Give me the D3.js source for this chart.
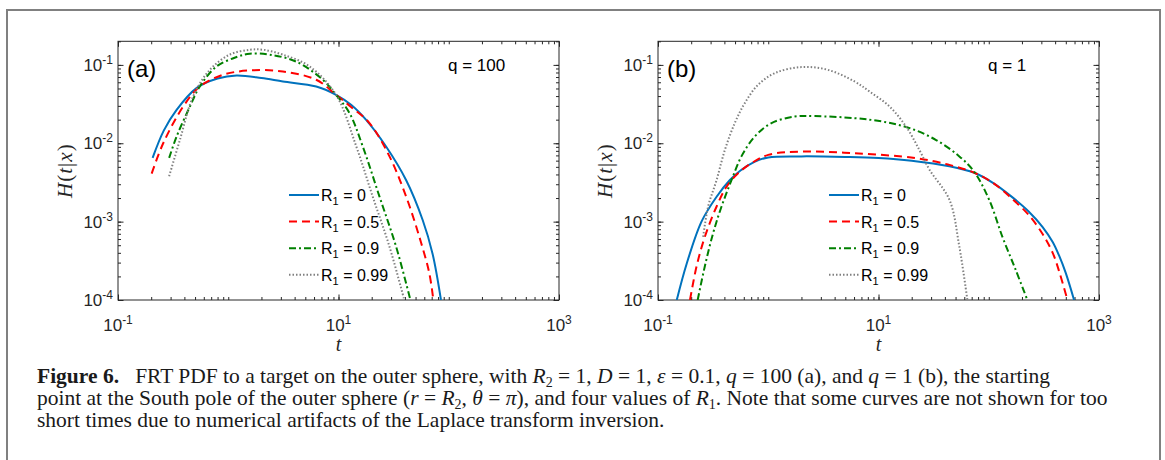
<!DOCTYPE html>
<html>
<head>
<meta charset="utf-8">
<script src="https://cdn.jsdelivr.net/npm/d3@7"></script>
<style>
  body { margin: 0; background: #fff; }
  svg { display: block; }
</style>
</head>
<body>
<script>
// values: [t, H(t|x)]
var a_R0 = [[0.206,0.0065],[0.26,0.0145],[0.34,0.0267],[0.515,0.0506],[0.8,0.067],[1.19,0.0733],[2,0.068],[3.13,0.0614],[6.28,0.053],[9.5,0.0415],[13,0.031],[17.8,0.0199],[27,0.0091],[41,0.0034],[58,0.00105],[71.3,0.00039],[85,0.0001]];
var a_R05 = [[0.202,0.0041],[0.257,0.01],[0.39,0.0294],[0.552,0.053],[0.9,0.0748],[1.57,0.085],[3.13,0.0824],[6.28,0.0646],[9.5,0.0415],[13,0.029],[19.1,0.0181],[29,0.0068],[41,0.0021],[54.1,0.00064],[66.6,0.00022],[72.5,0.0001]];
var a_R09 = [[0.291,0.0065],[0.34,0.0122],[0.449,0.0294],[0.552,0.053],[0.782,0.0955],[1.19,0.126],[1.57,0.139],[2.38,0.135],[4.14,0.11],[7.21,0.0646],[9.5,0.0415],[12.6,0.0242],[16.6,0.0091],[23.5,0.0021],[33.3,0.00048],[44.9,0.0001]];
var a_R099 = [[0.291,0.0038],[0.364,0.011],[0.48,0.0395],[0.681,0.0865],[1.03,0.135],[1.57,0.156],[2.07,0.156],[3.13,0.135],[5.47,0.0955],[9.5,0.0415],[14.5,0.0091],[20.4,0.0021],[29,0.00048],[39.5,0.0001]];

var b_R0 = [[0.148,0.0001],[0.182,0.00029],[0.248,0.001],[0.34,0.00208],[0.449,0.0034],[0.56,0.0045],[0.75,0.0058],[1,0.0066],[2,0.0068],[5,0.0067],[10,0.0065],[20,0.006],[43.9,0.0051],[74,0.0042],[110,0.0031],[160,0.0021],[230,0.00135],[307,0.00086],[380,0.00055],[434,0.00037],[500,0.00022],[594,0.0001]];
var b_R05 = [[0.195,0.0001],[0.224,0.00027],[0.266,0.00064],[0.34,0.00156],[0.419,0.0028],[0.533,0.00415],[0.705,0.00557],[1,0.00711],[2,0.00783],[6.07,0.00746],[21.9,0.00646],[43.9,0.0053],[74,0.0042],[110,0.0031],[160,0.002],[230,0.00122],[307,0.0007],[380,0.0004],[440,0.00022],[517,0.0001]];
var b_R09 = [[0.229,0.0001],[0.266,0.00027],[0.316,0.00071],[0.377,0.00156],[0.465,0.0034],[0.571,0.0068],[0.755,0.0122],[1.07,0.0181],[1.74,0.0219],[2.64,0.0222],[6.07,0.0209],[10.9,0.0189],[19.2,0.0156],[33.3,0.011],[54.1,0.0068],[74,0.00431],[101,0.00189],[133,0.00064],[176,0.00024],[224,0.0001]];
var b_R099 = [[0.257,0.00064],[0.285,0.00156],[0.34,0.0034],[0.404,0.0082],[0.497,0.0181],[0.612,0.0325],[0.809,0.0557],[1.15,0.0786],[2,0.0938],[3.47,0.0865],[6.07,0.0614],[8.3,0.0457],[12.6,0.0294],[17.8,0.0163],[23.5,0.0082],[29,0.0046],[44,0.0019],[54.1,0.00048],[64,0.0001]];

var seriesNames = ["0", "0.5", "0.9", "0.99"];
var xMajor = [0.1, 10, 1000];
var xMajorExp = ["-1", "1", "3"];
var yMajor = [1e-4, 1e-3, 1e-2, 1e-1];
var yMajorExp = ["-4", "-3", "-2", "-1"];

var styles = [
  { color: "#0072BD", dash: null },
  { color: "#FF0000", dash: "8,5" },
  { color: "#008000", dash: "7,3,2,3" },
  { color: "#808080", dash: "1.5,2" }
];

var panels = [
  { left: 118, right: 559, tag: "(a)", q: "q = 100", qx: 448, data: [a_R0, a_R05, a_R09, a_R099] },
  { left: 658, right: 1099, tag: "(b)", q: "q = 1", qx: 988, data: [b_R0, b_R05, b_R09, b_R099] }
];

var plotTop = 41.3, plotBottom = 300;

var svg = d3.select("body").append("svg").attr("width", 1165).attr("height", 460);

// figure frame
svg.append("path")
  .attr("d", "M7,460 V10 H1160 V460")
  .attr("fill", "none").attr("stroke", "#808080").attr("stroke-width", 2);

var sans = "Liberation Sans, Arial, Helvetica, sans-serif";
var serif = "Liberation Serif, Times New Roman, serif";

// minor ticks: every integer multiple inside each decade
function minorTicks(lo, hi) {
  var out = [];
  for (var e = Math.floor(Math.log10(lo)); e < Math.ceil(Math.log10(hi)); e++) {
    for (var k = 1; k < 10; k++) {
      var v = k * Math.pow(10, e);
      if (v >= lo && v <= hi) out.push(v);
    }
  }
  return out;
}

panels.forEach(function(p, pi) {
  var x = d3.scaleLog().domain([0.1, 1000]).range([p.left, p.right]);
  var y = d3.scaleLog().domain([1e-4, 0.2]).range([plotBottom, plotTop]);
  var g = svg.append("g");

  var clipId = "clip" + pi;
  svg.append("clipPath").attr("id", clipId).append("rect")
    .attr("x", p.left).attr("y", plotTop).attr("width", p.right - p.left).attr("height", plotBottom - plotTop);

  var xMinor = minorTicks(0.1, 1000);
  var yMinor = minorTicks(1e-4, 0.2);

  function axisStyle(sel) {
    sel.select(".domain").remove();
    sel.selectAll("line").attr("stroke", "#262626").attr("stroke-width", 1);
  }

  g.append("g").attr("transform", "translate(0," + plotBottom + ")")
    .call(d3.axisBottom(x).tickValues(xMinor).tickSize(-3).tickFormat("")).call(axisStyle);
  g.append("g").attr("transform", "translate(0," + plotBottom + ")")
    .call(d3.axisBottom(x).tickValues(xMajor).tickSize(-5.5).tickFormat("")).call(axisStyle);
  g.append("g").attr("transform", "translate(0," + plotTop + ")")
    .call(d3.axisTop(x).tickValues(xMinor).tickSize(-3).tickFormat("")).call(axisStyle);
  g.append("g").attr("transform", "translate(0," + plotTop + ")")
    .call(d3.axisTop(x).tickValues(xMajor).tickSize(-5.5).tickFormat("")).call(axisStyle);
  g.append("g").attr("transform", "translate(" + p.left + ",0)")
    .call(d3.axisLeft(y).tickValues(yMinor).tickSize(-3).tickFormat("")).call(axisStyle);
  g.append("g").attr("transform", "translate(" + p.left + ",0)")
    .call(d3.axisLeft(y).tickValues(yMajor).tickSize(-5.5).tickFormat("")).call(axisStyle);
  g.append("g").attr("transform", "translate(" + p.right + ",0)")
    .call(d3.axisRight(y).tickValues(yMinor).tickSize(-3).tickFormat("")).call(axisStyle);
  g.append("g").attr("transform", "translate(" + p.right + ",0)")
    .call(d3.axisRight(y).tickValues(yMajor).tickSize(-5.5).tickFormat("")).call(axisStyle);

  g.append("rect")
    .attr("x", p.left).attr("y", plotTop).attr("width", p.right - p.left).attr("height", plotBottom - plotTop)
    .attr("fill", "none").attr("stroke", "#262626").attr("stroke-width", 1);

  // tick labels with superscripts
  xMajor.forEach(function(v, i) {
    var t = g.append("text").attr("x", x(v)).attr("y", 331)
      .attr("text-anchor", "middle").attr("font-family", sans).attr("font-size", 17).attr("fill", "#262626");
    t.append("tspan").text("10");
    t.append("tspan").attr("font-size", 12).attr("dy", -7).text(xMajorExp[i]);
  });
  yMajor.forEach(function(v, i) {
    var t = g.append("text").attr("x", p.left - 5).attr("y", y(v) + 6)
      .attr("text-anchor", "end").attr("font-family", sans).attr("font-size", 17).attr("fill", "#262626");
    t.append("tspan").text("10");
    t.append("tspan").attr("font-size", 12).attr("dy", -7).text(yMajorExp[i]);
  });

  // axis titles
  g.append("text").attr("x", (p.left + p.right) / 2).attr("y", 351)
    .attr("text-anchor", "middle").attr("font-family", serif).attr("font-size", 20)
    .attr("font-style", "italic").attr("fill", "#262626").text("t");
  var yl = g.append("text")
    .attr("transform", "translate(" + (p.left - 46) + "," + ((plotTop + plotBottom) / 2) + ") rotate(-90)")
    .attr("text-anchor", "middle").attr("font-family", serif).attr("font-size", 21)
    .attr("letter-spacing", 1).attr("fill", "#262626");
  yl.append("tspan").attr("font-style", "italic").text("H");
  yl.append("tspan").text("(");
  yl.append("tspan").attr("font-style", "italic").text("t");
  yl.append("tspan").text("|");
  yl.append("tspan").attr("font-style", "italic").text("x");
  yl.append("tspan").text(")");

  g.append("text").attr("x", p.left + 9).attr("y", 77)
    .attr("font-family", sans).attr("font-size", 24).attr("fill", "#000").text(p.tag);
  g.append("text").attr("x", p.qx).attr("y", 71)
    .attr("font-family", sans).attr("font-size", 17).attr("fill", "#000").text(p.q);

  // curves
  var line = d3.line()
    .x(function(d) { return x(d[0]); })
    .y(function(d) { return y(d[1]); })
    .curve(d3.curveCatmullRom.alpha(0.5));

  var cg = g.append("g").attr("clip-path", "url(#" + clipId + ")");
  p.data.forEach(function(s, si) {
    cg.append("path").datum(s)
      .attr("d", line)
      .attr("fill", "none")
      .attr("stroke", styles[si].color)
      .attr("stroke-width", 2)
      .attr("stroke-dasharray", styles[si].dash);
  });

  // legend
  var lx = p.left + 171;
  seriesNames.forEach(function(n, si) {
    var ly = 195 + si * 26.6;
    g.append("line").attr("x1", lx).attr("x2", lx + 30).attr("y1", ly).attr("y2", ly)
      .attr("stroke", styles[si].color).attr("stroke-width", 2)
      .attr("stroke-dasharray", styles[si].dash);
    var t = g.append("text").attr("x", lx + 32).attr("y", ly + 6)
      .attr("font-family", sans).attr("font-size", 16).attr("fill", "#000");
    t.append("tspan").text("R");
    t.append("tspan").attr("font-size", 11).attr("dy", 4).text("1");
    t.append("tspan").attr("dy", -4).text(" = " + n);
  });
});

// caption
var cap = svg.append("g").attr("font-family", serif).attr("font-size", 21.5).attr("fill", "#1a1a1a");
var l1 = cap.append("text").attr("x", 37).attr("y", 383);
l1.append("tspan").attr("font-weight", "bold").text("Figure 6.");
l1.append("tspan").text("\u2002 FRT PDF to a target on the outer sphere, with ");
l1.append("tspan").attr("font-style", "italic").text("R");
l1.append("tspan").attr("font-size", 14).attr("dy", 4).text("2");
l1.append("tspan").attr("dy", -4).text(" = 1, ");
l1.append("tspan").attr("font-style", "italic").text("D");
l1.append("tspan").text(" = 1, ");
l1.append("tspan").attr("font-style", "italic").text("\u03b5");
l1.append("tspan").text(" = 0.1, ");
l1.append("tspan").attr("font-style", "italic").text("q");
l1.append("tspan").text(" = 100 (a), and ");
l1.append("tspan").attr("font-style", "italic").text("q");
l1.append("tspan").text(" = 1 (b), the starting");

var l2 = cap.append("text").attr("x", 37).attr("y", 405);
l2.append("tspan").text("point at the South pole of the outer sphere (");
l2.append("tspan").attr("font-style", "italic").text("r");
l2.append("tspan").text(" = ");
l2.append("tspan").attr("font-style", "italic").text("R");
l2.append("tspan").attr("font-size", 14).attr("dy", 4).text("2");
l2.append("tspan").attr("dy", -4).text(", ");
l2.append("tspan").attr("font-style", "italic").text("\u03b8");
l2.append("tspan").text(" = ");
l2.append("tspan").attr("font-style", "italic").text("\u03c0");
l2.append("tspan").text("), and four values of ");
l2.append("tspan").attr("font-style", "italic").text("R");
l2.append("tspan").attr("font-size", 14).attr("dy", 4).text("1");
l2.append("tspan").attr("dy", -4).text(". Note that some curves are not shown for too");

cap.append("text").attr("x", 37).attr("y", 427)
  .text("short times due to numerical artifacts of the Laplace transform inversion.");
</script>
</body>
</html>
